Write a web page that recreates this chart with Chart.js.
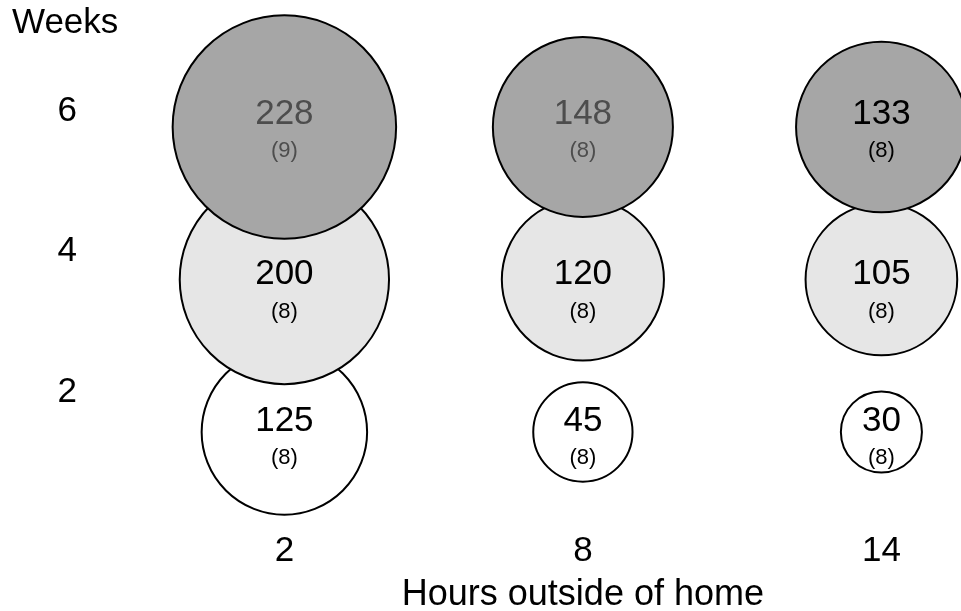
<!DOCTYPE html>
<html>
<head>
<meta charset="utf-8">
<script src="https://cdn.jsdelivr.net/npm/chart.js@4/dist/chart.umd.min.js"></script>
<style>
  html, body { margin: 0; padding: 0; background: #fff; overflow: hidden; }
  #wrap { width: 961px; height: 611px; }
</style>
</head>
<body>
<div id="wrap"><canvas id="bubbleChart"></canvas></div>
<script>
// 横轴：离家小时数
const hours = [2, 8, 14];
const xTitle = 'Hours outside of home';
// 纵轴刻度：周数
const weekTicks = [2, 4, 6];
// 每一行的气泡数值
const values6 = [228, 148, 133];
const values4 = [200, 120, 105];
const values2 = [125, 45, 30];
// 括号里的样本数
const counts6 = [9, 8, 8];
const counts4 = [8, 8, 8];
const counts2 = [8, 8, 8];

const FONT = "'Liberation Sans', Arial, sans-serif";
Chart.defaults.font.family = FONT;
Chart.defaults.color = '#000';

// 气泡面积与数值成正比
function toPoints(week, values, counts) {
  return values.map((v, i) => ({ x: hours[i], y: week, r: Math.sqrt(v) * 7.4, v: v, n: counts[i] }));
}

// 在气泡中间写数值和样本数，横轴标题放在中间那一列下面
const bubbleLabels = {
  id: 'bubbleLabels',
  afterDatasetsDraw(chart) {
    const ctx = chart.ctx;
    ctx.save();
    ctx.textAlign = 'center';
    ctx.textBaseline = 'middle';
    chart.data.datasets.forEach((ds, di) => {
      const meta = chart.getDatasetMeta(di);
      const dy = ds.labelShift || 0;
      meta.data.forEach((el, i) => {
        const p = ds.data[i];
        ctx.fillStyle = ds.textColors[i];
        ctx.font = '35px ' + FONT;
        ctx.fillText(String(p.v), el.x, el.y - 13 + dy);
        ctx.font = '22px ' + FONT;
        ctx.fillText('(' + p.n + ')', el.x, el.y + 24 + dy);
      });
    });
    const xs = chart.scales.x;
    ctx.fillStyle = '#000';
    ctx.font = '36px ' + FONT;
    ctx.fillText(xTitle, xs.getPixelForValue(hours[1]), xs.bottom - 16);
    ctx.restore();
  }
};

// 第一个数据集画在最上面
const ctx = document.getElementById('bubbleChart');
const chart = new Chart(ctx, {
  type: 'bubble',
  data: {
    datasets: [
      { data: toPoints(6, values6, counts6), backgroundColor: '#a6a6a6', textColors: ['#4d4d4d', '#4d4d4d', '#000'], labelShift: 0 },
      { data: toPoints(4, values4, counts4), backgroundColor: '#e6e6e6', textColors: ['#000', '#000', '#000'], labelShift: 8 },
      { data: toPoints(2, values2, counts2), backgroundColor: '#ffffff', textColors: ['#000', '#000', '#000'], labelShift: 2 }
    ].map(ds => Object.assign(ds, { borderColor: '#000', borderWidth: 2, clip: false, hoverRadius: 0 }))
  },
  options: {
    responsive: true,
    maintainAspectRatio: false,
    animation: false,
    events: [],
    layout: { autoPadding: false, padding: { left: 12, right: 0, top: 0, bottom: 0 } },
    plugins: {
      legend: { display: false },
      tooltip: { enabled: false },
      title: {
        display: true,
        text: 'Weeks',
        align: 'start',
        color: '#000',
        font: { size: 35, weight: 'normal', lineHeight: 1.2 },
        padding: { top: 2, bottom: 0 }
      }
    },
    scales: {
      x: {
        type: 'linear',
        min: -0.5,
        max: 15.6,
        afterBuildTicks: s => { s.ticks = hours.map(v => ({ value: v })); },
        afterFit: s => { s.height = 91; s.paddingLeft = 0; s.paddingRight = 0; },
        grid: { display: false, drawTicks: false },
        border: { display: false },
        ticks: { padding: 10, color: '#000', font: { size: 35 } }
      },
      y: {
        type: 'linear',
        display: false,
        min: 0.846,
        max: 7.088
      },
      yTicks: {
        type: 'linear',
        position: 'left',
        min: 0.177,
        max: 6.953,
        afterBuildTicks: s => { s.ticks = weekTicks.map(v => ({ value: v })); },
        afterFit: s => { s.width = 148; s.paddingTop = 0; s.paddingBottom = 0; },
        grid: { display: false, drawTicks: false },
        border: { display: false },
        ticks: { padding: 83, color: '#000', font: { size: 35 } }
      }
    }
  },
  plugins: [bubbleLabels]
});
</script>
</body>
</html>
